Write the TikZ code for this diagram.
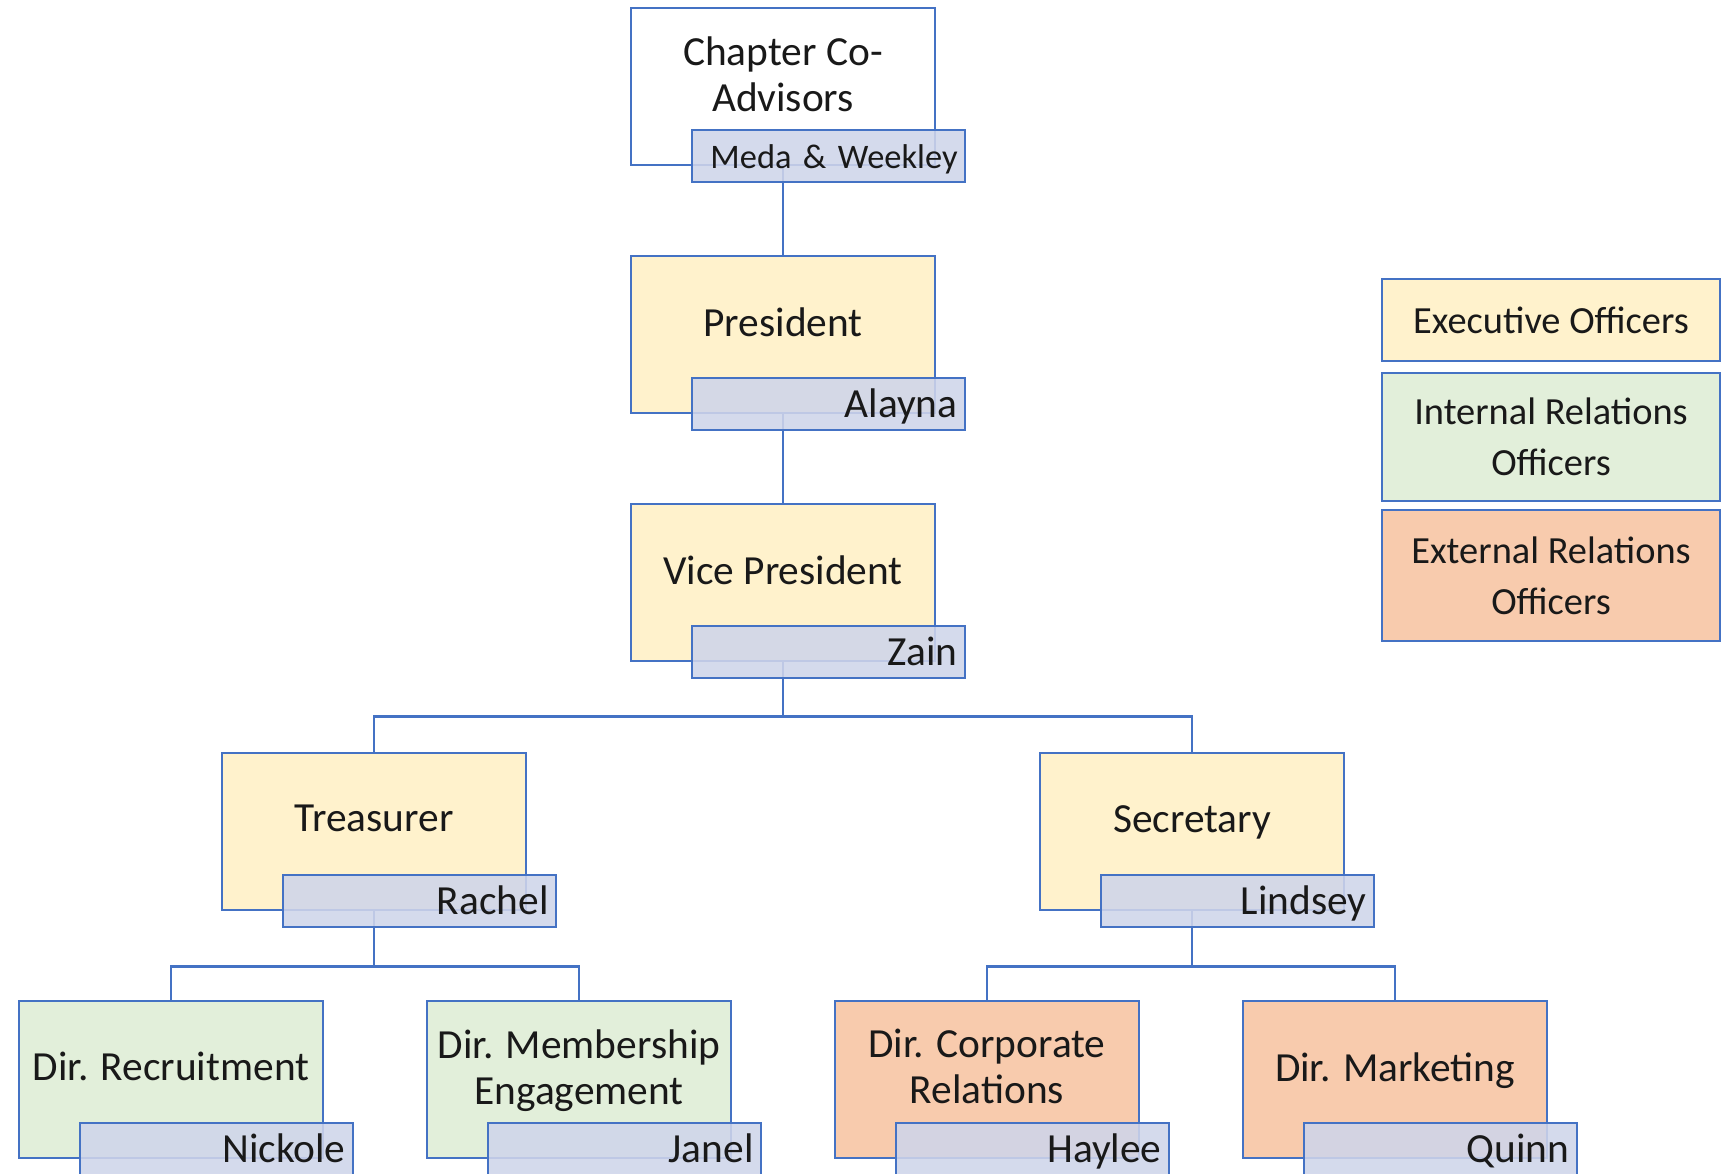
\documentclass[tikz,border=0pt]{standalone}
\usepackage{fontspec}
\setmainfont{Carlito}
\usetikzlibrary{calc}
\definecolor{bord}{HTML}{4472C4}
\definecolor{execc}{HTML}{FFF2CC}
\definecolor{intc}{HTML}{E2EFDA}
\definecolor{extc}{HTML}{F8CBAD}
\definecolor{namec}{HTML}{CFD5EA}
\begin{document}
\begin{tikzpicture}[x=0.5pt,y=-0.5pt,
  rolebox/.style={draw=bord, line width=1.3pt, minimum width=152pt, minimum height=78.5pt, inner sep=0pt},
  roletext/.style={align=center, font=\fontsize{20.7}{23}\selectfont, inner sep=0pt, text depth=0pt, text=black!90},
  namebox/.style={draw=bord, line width=1.3pt, fill=namec, fill opacity=0.88, text opacity=1, anchor=north west,
    minimum width=136.5pt, minimum height=26pt, text width=129pt, align=right, inner xsep=3.75pt, inner ysep=0pt,
    text height=13.5pt, text depth=0pt,
    font=\fontsize{20.7}{23}\selectfont, text=black!90},
  legbox/.style={draw=bord, line width=1.3pt, minimum width=169pt, inner sep=0pt, align=center,
    font=\fontsize{19.2}{25.4}\selectfont, text=black!90},
  conn/.style={draw=bord, line width=1.3pt}
]
\useasboundingbox (0,0) rectangle (1729,1173);
\fill[white] (0,0) rectangle (1729,1173);

% main boxes
\node[rolebox, fill=white] (top) at (783,86.5) {};
\node[rolebox, fill=execc] (pres) at (783,334.5) {};
\node[rolebox, fill=execc] (vp) at (783,582.5) {};
\node[rolebox, fill=execc] (treas) at (374,831.5) {};
\node[rolebox, fill=execc] (sec) at (1192,831.5) {};
\node[rolebox, fill=intc] (rec) at (171,1079.5) {};
\node[rolebox, fill=intc] (mem) at (579,1079.5) {};
\node[rolebox, fill=extc] (corp) at (987,1079.5) {};
\node[rolebox, fill=extc] (mark) at (1395,1079.5) {};

% connectors
\draw[conn] (top.south) -- (pres.north);
\draw[conn] (pres.south) -- (vp.north);
\draw[conn] (vp.south) -- ++(0,54) -| (treas.north);
\draw[conn] (vp.south) -- ++(0,54) -| (sec.north);
\draw[conn] (treas.south) -- ++(0,55) -| (rec.north);
\draw[conn] (treas.south) -- ++(0,55) -| (mem.north);
\draw[conn] (sec.south) -- ++(0,55) -| (corp.north);
\draw[conn] (sec.south) -- ++(0,55) -| (mark.north);

% role texts
\node[roletext] (topT) at ($(top.north)+(0,67)$) {Chapter Co-\\Advisors};
\node[roletext] (presT) at ($(pres.north)+(0,67)$) {President};
\node[roletext] (vpT) at ($(vp.north)+(0,67)$) {Vice President};
\node[roletext] (treasT) at ($(treas.north)+(0,67)$) {Treasurer};
\node[roletext] (secT) at ($(sec.north)+(0,67)$) {Secretary};
\node[roletext] (recT) at ($(rec.north)+(0,67)$) {Dir. Recruitment};
\node[roletext] (memT) at ($(mem.north)+(0,67)$) {Dir. Membership\\Engagement};
\node[roletext] (corpT) at ($(corp.north)+(0,67)$) {Dir. Corporate\\Relations};
\node[roletext] (markT) at ($(mark.north)+(0,67)$) {Dir. Marketing};

% name boxes
\node[namebox, font=\fontsize{17.2}{21}\selectfont, text height=12pt] (topN) at ($(top.north west)+(61,122)$) {\mbox{Meda \& Weekley}};
\node[namebox] (presN) at ($(pres.north west)+(61,122)$) {Alayna};
\node[namebox] (vpN) at ($(vp.north west)+(61,122)$) {Zain};
\node[namebox] (treasN) at ($(treas.north west)+(61,122)$) {Rachel};
\node[namebox] (secN) at ($(sec.north west)+(61,122)$) {Lindsey};
\node[namebox] (recN) at ($(rec.north west)+(61,122)$) {Nickole};
\node[namebox] (memN) at ($(mem.north west)+(61,122)$) {Janel};
\node[namebox] (corpN) at ($(corp.north west)+(61,122)$) {Haylee};
\node[namebox] (markN) at ($(mark.north west)+(61,122)$) {Quinn};

% legend
\node[legbox, fill=execc, minimum height=41pt] (legE) at (1551,320) {Executive Officers};
\node[legbox, fill=intc, minimum height=64pt] (legI) at (1551,437) {Internal Relations\\Officers};
\node[legbox, fill=extc, minimum height=65.5pt] (legX) at (1551,575.5) {External Relations\\Officers};
\end{tikzpicture}
\end{document}
